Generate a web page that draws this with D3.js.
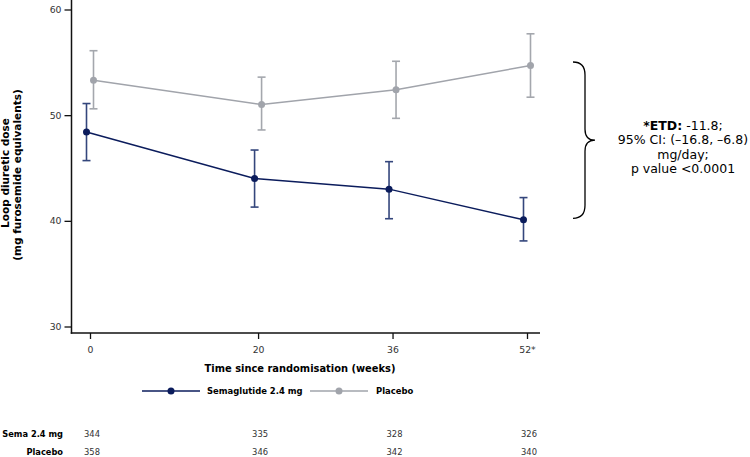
<!DOCTYPE html>
<html>
<head>
<meta charset="utf-8">
<script src="https://cdn.jsdelivr.net/npm/d3@7"></script>
<style>
html,body{margin:0;padding:0;background:#fff;}
svg{display:block;}
</style>
</head>
<body>
<svg id="chart" width="750" height="457"></svg>
<script>
// ---- data ----
const weeks = [0, 20, 36, 52];
const xTickLabels = ["0", "20", "36", "52*"];
const yTicks = [30, 40, 50, 60];
const semaMean  = [48.4, 44.0, 43.0, 40.1];
const semaLow   = [45.7, 41.3, 40.2, 38.1];
const semaHigh  = [51.1, 46.7, 45.6, 42.2];
const placMean  = [53.3, 51.0, 52.4, 54.7];
const placLow   = [50.6, 48.6, 49.7, 51.7];
const placHigh  = [56.1, 53.6, 55.1, 57.7];
const seriesNames = ["Semaglutide 2.4 mg", "Placebo"];
const rowLabels = ["Sema 2.4 mg", "Placebo"];
const semaN = [344, 335, 328, 326];
const placN = [358, 346, 342, 340];
const annotLines = [["*ETD:", " -11.8;"], ["", "95% CI: (\u201316.8, \u20136.8)"], ["", "mg/day;"], ["", "p value <0.0001"]];

// ---- styles ----
const navy = "#0b1c5c", navyBar = "#34467c";
const grey = "#a1a4ab", greyBar = "#a4a7ad";
const svg = d3.select("#chart");

const x = d3.scaleLinear().domain([0, 52]).range([90, 527]);
const y = d3.scaleLinear().domain([30, 60]).range([326.5, 9.5]);
const axisX0 = 71.5, axisY0 = 333;

// axes lines
svg.append("line").attr("x1", axisX0).attr("x2", axisX0).attr("y1", 0).attr("y2", axisY0 + 0.75)
  .attr("stroke", "#111").attr("stroke-width", 1.5);
svg.append("line").attr("x1", axisX0 - 0.75).attr("x2", 540).attr("y1", axisY0).attr("y2", axisY0)
  .attr("stroke", "#111").attr("stroke-width", 1.5);

// y axis
const gy = svg.append("g").attr("transform", `translate(${axisX0},0)`)
  .call(d3.axisLeft(y).tickValues(yTicks).tickSize(7).tickPadding(3));
gy.select(".domain").remove();
gy.selectAll(".tick line").attr("stroke", "#111").attr("stroke-width", 1.3);
gy.selectAll(".tick text").attr("font-family", "DejaVu Sans").attr("font-size", 9.3).attr("fill", "#333");

// x axis
const gx = svg.append("g").attr("transform", `translate(0,${axisY0})`)
  .call(d3.axisBottom(x).tickValues(weeks).tickFormat((d, i) => xTickLabels[i]).tickSize(6).tickPadding(7));
gx.select(".domain").remove();
gx.selectAll(".tick line").attr("stroke", "#111").attr("stroke-width", 1.3);
gx.selectAll(".tick text").attr("font-family", "DejaVu Sans").attr("font-size", 9.3).attr("fill", "#333");

// axis titles
svg.append("text").attr("transform", "translate(9,173) rotate(-90)")
  .attr("text-anchor", "middle").attr("font-family", "DejaVu Sans").attr("font-weight", "bold")
  .attr("font-size", 10.5).attr("fill", "#000").text("Loop diuretic dose");
svg.append("text").attr("transform", "translate(21,175) rotate(-90)")
  .attr("text-anchor", "middle").attr("font-family", "DejaVu Sans").attr("font-weight", "bold")
  .attr("font-size", 10.5).attr("fill", "#000").text("(mg furosemide equivalents)");
svg.append("text").attr("x", 300).attr("y", 371.5).attr("text-anchor", "middle")
  .attr("font-family", "DejaVu Sans").attr("font-weight", "bold").attr("font-size", 9.9)
  .attr("fill", "#000").text("Time since randomisation (weeks)");

// series
const series = [
  {mean: semaMean, low: semaLow, high: semaHigh, color: navy, bar: navyBar, off: -3.5},
  {mean: placMean, low: placLow, high: placHigh, color: grey, bar: greyBar, off: 3.5}
];
// draw placebo first then sema
[series[1], series[0]].forEach(s => {
  const g = svg.append("g");
  const px = i => x(weeks[i]) + s.off;
  g.append("path")
    .attr("d", d3.line().x((d, i) => px(i)).y(d => y(d))(s.mean))
    .attr("fill", "none").attr("stroke", s.color).attr("stroke-width", 1.5);
  weeks.forEach((w, i) => {
    g.append("line").attr("x1", px(i)).attr("x2", px(i)).attr("y1", y(s.low[i])).attr("y2", y(s.high[i]))
      .attr("stroke", s.bar).attr("stroke-width", 1.6);
    [s.low[i], s.high[i]].forEach(v => {
      g.append("line").attr("x1", px(i) - 4).attr("x2", px(i) + 4).attr("y1", y(v)).attr("y2", y(v))
        .attr("stroke", s.bar).attr("stroke-width", 1.6);
    });
    g.append("circle").attr("cx", px(i)).attr("cy", y(s.mean[i])).attr("r", 3.5).attr("fill", s.color);
  });
});

// legend
const legY = 391;
const legItems = [
  {x1: 142, x2: 200, tx: 207, color: navy, name: seriesNames[0]},
  {x1: 310, x2: 368, tx: 376, color: grey, name: seriesNames[1]}
];
legItems.forEach(l => {
  svg.append("line").attr("x1", l.x1).attr("x2", l.x2).attr("y1", legY).attr("y2", legY)
    .attr("stroke", l.color).attr("stroke-width", 1.5);
  svg.append("circle").attr("cx", (l.x1 + l.x2) / 2).attr("cy", legY).attr("r", 3.5).attr("fill", l.color);
  svg.append("text").attr("x", l.tx).attr("y", legY + 3.3).attr("font-family", "DejaVu Sans Condensed")
    .attr("font-weight", "bold").attr("font-size", 9.4).attr("fill", "#000").text(l.name);
});

// number at risk table
const rowsBase = [436.8, 455.2];
[semaN, placN].forEach((arr, r) => {
  svg.append("text").attr("x", 63).attr("y", rowsBase[r]).attr("text-anchor", "end")
    .attr("font-family", "DejaVu Sans Condensed").attr("font-weight", "bold").attr("font-size", 9.2)
    .attr("fill", "#000").text(rowLabels[r]);
  arr.forEach((n, i) => {
    svg.append("text").attr("x", x(weeks[i]) + 2).attr("y", rowsBase[r]).attr("text-anchor", "middle")
      .attr("font-family", "DejaVu Sans Condensed").attr("font-size", 9.3).attr("fill", "#333").text(n);
  });
});

// brace annotation
const bTop = y(placMean[3]) - 3.5, bBot = y(semaMean[3]) - 1.5, bMid = (bTop + bBot) / 2;
const bx0 = 573, bx1 = 585, bTip = 595;
svg.append("path")
  .attr("d", `M${bx0},${bTop} Q${bx1},${bTop} ${bx1},${bTop + 13} L${bx1},${bMid - 11} Q${bx1},${bMid} ${bTip},${bMid}` +
             ` Q${bx1},${bMid} ${bx1},${bMid + 11} L${bx1},${bBot - 13} Q${bx1},${bBot} ${bx0},${bBot}`)
  .attr("fill", "none").attr("stroke", "#000").attr("stroke-width", 1.3);

const annot = svg.append("text").attr("text-anchor", "middle").attr("font-family", "DejaVu Sans")
  .attr("font-size", 12.5).attr("fill", "#000");
annotLines.forEach((ln, i) => {
  const t = annot.append("tspan").attr("x", 683).attr("y", 129.5 + i * 14.6);
  if (ln[0]) t.append("tspan").attr("font-weight", "bold").text(ln[0]);
  t.append("tspan").text(ln[1]);
});
</script>
</body>
</html>
